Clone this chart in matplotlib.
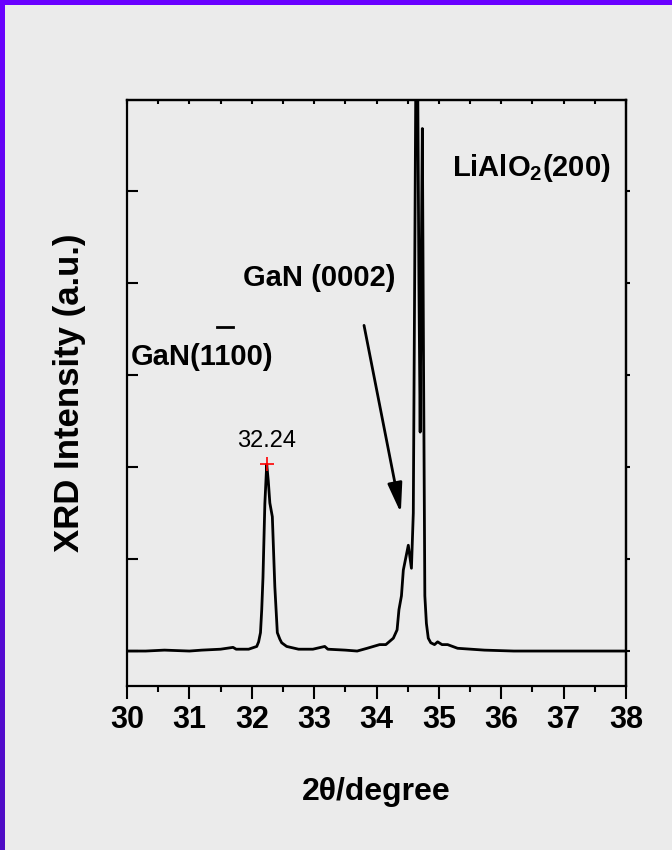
import numpy as np
import matplotlib
matplotlib.use('Agg')
import matplotlib.pyplot as plt

plt.rcParams['font.family'] = ['Liberation Sans', 'DejaVu Sans']
plt.rcParams['font.weight'] = 'bold'
plt.rcParams['axes.labelweight'] = 'bold'
plt.rcParams['mathtext.fontset'] = 'custom'
plt.rcParams['mathtext.rm'] = 'Liberation Sans:bold'
plt.rcParams['mathtext.bf'] = 'Liberation Sans:bold'

# XRD scan (2theta in degree, intensity in arbitrary units)
two_theta = [30.0, 30.3, 30.6, 31.0, 31.2, 31.5, 31.7, 31.75, 31.95, 32.08,
             32.11, 32.14, 32.16, 32.18, 32.21, 32.24, 32.265, 32.29, 32.33,
             32.37, 32.41, 32.45, 32.48, 32.52, 32.56, 32.75, 32.98, 33.17,
             33.22, 33.5, 33.69, 33.85, 34.05, 34.15, 34.27, 34.33, 34.36,
             34.40, 34.43, 34.51, 34.56, 34.59, 34.62, 34.645, 34.68, 34.70,
             34.715, 34.735, 34.755, 34.775, 34.80, 34.83, 34.87, 34.93,
             34.98, 35.05, 35.14, 35.3, 35.73, 36.2, 37.0, 38.0]
intensity = [0.0, 0.0, 0.01, 0.0, 0.01, 0.02, 0.04, 0.02, 0.02, 0.05,
             0.1, 0.2, 0.45, 0.8, 1.6, 2.03, 1.85, 1.61, 1.46,
             0.70, 0.2, 0.13, 0.09, 0.07, 0.05, 0.02, 0.02, 0.05,
             0.02, 0.01, 0.0, 0.03, 0.07, 0.07, 0.14, 0.23, 0.45,
             0.6, 0.88, 1.15, 0.9, 1.5, 5.0, 8.0, 4.0, 2.38,
             4.0, 5.68, 3.0, 0.6, 0.30, 0.14, 0.09, 0.07,
             0.10, 0.07, 0.07, 0.03, 0.01, 0.0, 0.0, 0.0]

peak_pos = 32.24
peak_val = 2.03
x_ticks = [30, 31, 32, 33, 34, 35, 36, 37, 38]
y_ticks = [0, 1, 2, 3, 4, 5]

fig = plt.figure(figsize=(6.72, 8.5), dpi=100, facecolor='#ebebeb')

# purple frame on the top and left edge
grad = np.linspace(0, 1, 256).reshape(-1, 1)
bax = fig.add_axes([0, 0, 5 / 672, 1])
bax.imshow(grad, aspect='auto', cmap=matplotlib.colors.LinearSegmentedColormap.from_list(
    'p', ['#6a00ff', '#4e0cc4']))
bax.axis('off')
tax = fig.add_axes([0, 1 - 5 / 850, 1, 5 / 850])
tax.set_facecolor('#6a00ff')
tax.set_xticks([])
tax.set_yticks([])
for s in tax.spines.values():
    s.set_visible(False)

ax = fig.add_axes([127 / 672, 164 / 850, 499 / 672, 586 / 850])
ax.set_facecolor('#ebebeb')
ax.plot(two_theta, intensity, color='black', lw=2)
ax.plot([peak_pos], [peak_val], marker='+', color='red', ms=10, mew=1.2)
ax.text(peak_pos, 2.28, '32.24', ha='center', va='center', fontsize=17,
        fontweight='normal')

ax.set_xlim(30, 38)
ax.set_ylim(-0.38, 5.99)
ax.set_xticks(x_ticks)
ax.set_xticks(np.arange(30.5, 38, 1.0), minor=True)
ax.set_yticks(y_ticks)
ax.set_yticklabels([])
ax.tick_params(axis='x', which='major', direction='out', length=9, width=1.5,
               labelsize=22, pad=5)
ax.tick_params(axis='x', which='minor', direction='out', length=4.5, width=1.5)
ax.tick_params(axis='y', direction='in', length=8, width=1.5)
for s in ax.spines.values():
    s.set_linewidth(1.6)

# small ticks on the top (inward) and right (outward) edges
top = ax.secondary_xaxis('top')
top.set_xticks(x_ticks, labels=[])
top.set_xticks(np.arange(30.5, 38, 1.0), minor=True)
top.tick_params(which='both', direction='in', length=3, width=1.5)
right = ax.secondary_yaxis('right')
right.set_yticks(y_ticks, labels=[])
right.tick_params(direction='out', length=3, width=1.5)
top.spines['top'].set_linewidth(1.6)
right.spines['right'].set_linewidth(1.6)

ax.set_xlabel('2θ/degree', fontsize=23, labelpad=30)
ax.set_ylabel('XRD Intensity (a.u.)', fontsize=25, labelpad=26)

ax.text(35.21, 5.25, r'LiAlO$_\mathbf{2}$(200)', fontsize=21, va='center')
ax.text(31.86, 4.05, 'GaN (0002)', fontsize=21, va='center')
ax.text(30.06, 3.2, 'GaN(1100)', fontsize=21, va='center')
ax.plot([31.44, 31.70], [3.52, 3.52], color='black', lw=2, clip_on=False)

ax.annotate('', xy=(34.39, 1.50), xytext=(33.80, 3.54),
            arrowprops=dict(arrowstyle='-|>,head_length=0.9,head_width=0.22',
                            color='black', lw=2, mutation_scale=20,
                            shrinkA=0, shrinkB=0))

fig.savefig('out.png', dpi=100, facecolor=fig.get_facecolor())
